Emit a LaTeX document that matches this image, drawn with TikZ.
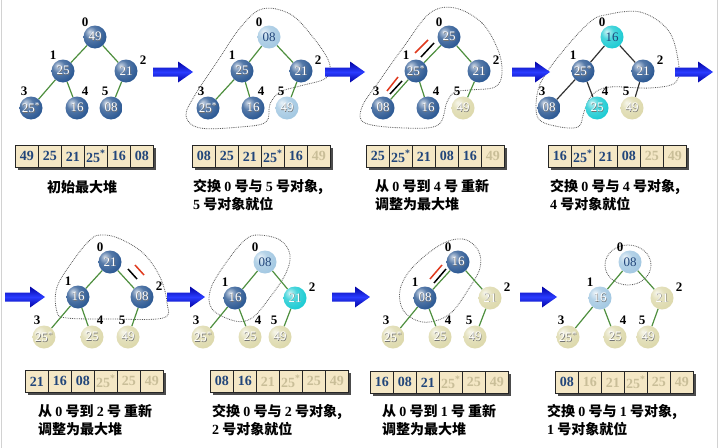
\documentclass[tikz,border=0pt]{standalone}
\usepackage{fontspec}
\setmainfont{Liberation Serif}
\newfontfamily\cjk{Noto Sans CJK SC}
\usetikzlibrary{calc}
\definecolor{dkblue}{HTML}{2B5893}
\definecolor{ltblue}{HTML}{A3C8E2}
\definecolor{cyanc}{HTML}{1CCBD3}
\definecolor{beige}{HTML}{DDD9AC}
\definecolor{edgegreen}{HTML}{4E8F3E}
\definecolor{cellfill}{HTML}{F4E7C5}
\definecolor{numblue}{HTML}{21457A}
\definecolor{numdone}{HTML}{C9BE98}
\definecolor{arrowdk}{HTML}{0000A0}
\definecolor{arrowlt}{HTML}{2A3CFF}
\definecolor{swapred}{HTML}{E03A1E}
\makeatletter
\pgfdeclareradialshading[tikz@ball]{softball}{\pgfqpoint{-12bp}{12bp}}{color(0bp)=(tikz@ball!25!white); color(14bp)=(tikz@ball!80!white); color(32bp)=(tikz@ball); color(52bp)=(tikz@ball!78!black); color(70bp)=(tikz@ball!60!black)}
\makeatother
\newcommand\dg[1]{{\normalfont\bfseries #1}}
\newcommand\starv{25\textsuperscript{*}}
\newcommand\sh[1]{\rlap{\kern0.6pt\raisebox{-0.6pt}{\textcolor{black!55}{#1}}}#1}
\newcommand\tedges[2]{\draw[#2] (#1n0)--(#1n1) (#1n0)--(#1n2) (#1n1)--(#1n3) (#1n1)--(#1n4) (#1n2)--(#1n5);}
\newcommand\tlabels[1]{\foreach \i/\dx/\dy in {0/-10/-15,1/-10/-16,2/17/-11,3/-7/-17,4/8/-17,5/-6/-17} {\node[idx] (#1l\i) at ($(#1n\i)+(\dx,\dy)$) {\i};}}
\newcommand\harray[4]{\fill[black!70] ({#2+3},{#3+3}) rectangle ({#2+141},{#3+25});
 \foreach \v/\s [count=\k] in {#4} {\node[\s, anchor=north west] (#1c\k) at ({#2+(\k-1)*23},{#3}) {\v};}}
\newcommand\barrow[3]{\shade[top color=arrowdk, bottom color=arrowdk, middle color=arrowlt]
 ({#1},{#3-4.5}) -- ({#2-15},{#3-4.5}) -- ({#2-15},{#3-10.5}) -- ({#2},{#3}) -- ({#2-15},{#3+10.5}) -- ({#2-15},{#3+4.5}) -- ({#1},{#3+4.5}) -- cycle;}
\tikzset{
 hnode/.style={circle, minimum size=23pt, inner sep=0pt, font=\fontsize{13}{13}\selectfont},
 dk/.style={hnode, ball color=dkblue, shading=softball, text=white},
 lb/.style={hnode, ball color=ltblue, shading=softball, text=numblue},
 lbw/.style={hnode, ball color=ltblue, shading=softball, text=white},
 cy/.style={hnode, ball color=cyanc, shading=softball, text=white},
 cyd/.style={hnode, ball color=cyanc, shading=softball, text=numblue},
 bg/.style={hnode, ball color=beige, shading=softball, text=white},
 edgeg/.style={edgegreen, line width=1.2pt},
 edgek/.style={black!80, line width=1.2pt},
 idx/.style={font=\bfseries\fontsize{13}{13}\selectfont, inner sep=0pt},
 zone/.style={densely dotted, gray!70!black, line width=0.8pt},
 cellbox/.style={draw=black!85, fill=cellfill, minimum width=23pt, minimum height=22pt, inner sep=0pt, line width=0.8pt, font=\bfseries\fontsize{14}{14}\selectfont},
 cellon/.style={cellbox, text=numblue},
 celloff/.style={cellbox, text=numdone},
 captext/.style={font=\cjk\bfseries\fontsize{14}{18}\selectfont, align=left, inner sep=0pt, anchor=north west},
 swapk/.style={black, line width=1.5pt},
 swapr/.style={swapred, line width=1.5pt}
}
\begin{document}
\begin{tikzpicture}[x=1pt, y=-1pt]
\useasboundingbox (0,0) rectangle (720,447);
\fill[white] (0,0) rectangle (720,447);
\draw[gray!35, line width=1pt] (1,-2) rectangle (717,449);
% zones
\draw[zone] plot[smooth cycle, tension=0.6] coordinates {(262,9) (290,14) (312,36) (329,62) (326,78) (300,86) (280,92) (270,104) (266,122) (240,127) (200,128) (186,116) (195,95) (217,62) (240,28)};
\draw[zone] plot[smooth cycle, tension=0.6] coordinates {(455,8) (482,23) (498,50) (502,73) (495,87) (470,90) (455,92) (447,102) (438,125) (405,128) (365,123) (362,107) (380,80) (405,45) (430,13)};
\draw[zone] plot[smooth cycle, tension=0.6] coordinates {(605,15) (640,12) (668,30) (678,60) (676,82) (650,88) (610,87) (592,95) (584,112) (578,127) (555,126) (538,118) (537,95) (545,75) (568,45) (590,22)};
\draw[zone] plot[smooth cycle, tension=0.6] coordinates {(100,235) (118,238) (143,253) (160,277) (167,303) (163,318) (110,319) (67,318) (57,312) (57,287) (75,258) (90,240)};
\draw[zone] plot[smooth cycle, tension=0.6] coordinates {(258,235) (280,240) (290,255) (285,275) (268,300) (252,318) (235,321) (212,309) (211,288) (228,260) (245,240)};
\draw[zone] plot[smooth cycle, tension=0.6] coordinates {(463,239) (478,250) (480,268) (468,290) (452,312) (435,321) (418,321) (403,310) (400,290) (412,268) (440,245)};
\draw[zone] (628,265) ellipse [x radius=23, y radius=20];
% panel 1
\node[dk] (aan0) at (95,37) {\sh{49}};
\node[dk] (aan1) at (63,71) {\sh{25}};
\node[dk] (aan2) at (126,71) {\sh{21}};
\node[dk] (aan3) at (31,108) {\sh{\starv}};
\node[dk] (aan4) at (77,108) {\sh{16}};
\node[dk] (aan5) at (111,108) {\sh{08}};
\tedges{aa}{edgeg}\tlabels{aa}
% panel 2
\node[lb] (abn0) at (269,37) {08};
\node[dk] (abn1) at (242,71) {\sh{25}};
\node[dk] (abn2) at (301,71) {\sh{21}};
\node[dk] (abn3) at (208,108) {\sh{\starv}};
\node[dk] (abn4) at (253,108) {\sh{16}};
\node[lbw] (abn5) at (287,108) {\sh{49}};
\tedges{ab}{edgeg}\tlabels{ab}
% panel 3
\node[dk] (acn0) at (449,37) {\sh{25}};
\node[dk] (acn1) at (416,71) {\sh{\starv}};
\node[dk] (acn2) at (479,71) {\sh{21}};
\node[dk] (acn3) at (383,108) {\sh{08}};
\node[dk] (acn4) at (428,108) {\sh{16}};
\node[bg] (acn5) at (463,108) {\sh{49}};
\tedges{ac}{edgeg}\tlabels{ac}
\draw[swapr] (415,53) -- (428,40);
\draw[swapk] (421,57) -- (434,43);
\draw[swapr] (387,91) -- (398,77);
\draw[swapk] (390,94) -- (402,81);
% panel 4
\node[cyd] (adn0) at (612,37) {16};
\node[dk] (adn1) at (583,71) {\sh{\starv}};
\node[dk] (adn2) at (643,71) {\sh{21}};
\node[dk] (adn3) at (549,108) {\sh{08}};
\node[cy] (adn4) at (597,108) {\sh{25}};
\node[bg] (adn5) at (632,108) {\sh{49}};
\tedges{ad}{edgek}\tlabels{ad}
% panel 5
\node[dk] (aen0) at (110,262) {\sh{21}};
\node[dk] (aen1) at (78,297) {\sh{16}};
\node[dk] (aen2) at (142,297) {\sh{08}};
\node[bg] (aen3) at (44,337) {\sh{\starv}};
\node[bg] (aen4) at (92,337) {\sh{25}};
\node[bg] (aen5) at (128,337) {\sh{49}};
\tedges{ae}{edgeg}\tlabels{ae}
\draw[swapk] (128,269) -- (137,279);
\draw[swapr] (135,265) -- (144,275);
% panel 6
\node[lb] (afn0) at (265,262) {08};
\node[dk] (afn1) at (235,298) {\sh{16}};
\node[cy] (afn2) at (295,298) {\sh{21}};
\node[bg] (afn3) at (203,337) {\sh{\starv}};
\node[bg] (afn4) at (250,337) {\sh{25}};
\node[bg] (afn5) at (280,337) {\sh{49}};
\tedges{af}{edgeg}\tlabels{af}
% panel 7
\node[dk] (agn0) at (458,262) {\sh{16}};
\node[dk] (agn1) at (425,298) {\sh{08}};
\node[bg] (agn2) at (490,298) {\sh{21}};
\node[bg] (agn3) at (393,337) {\sh{\starv}};
\node[bg] (agn4) at (440,337) {\sh{25}};
\node[bg] (agn5) at (475,337) {\sh{49}};
\tedges{ag}{edgeg}\tlabels{ag}
\draw[swapr] (430,279) -- (442,265);
\draw[swapk] (434,283) -- (446,269);
% panel 8
\node[lb] (ahn0) at (630,262) {08};
\node[lbw] (ahn1) at (600,298) {\sh{16}};
\node[bg] (ahn2) at (662,298) {\sh{21}};
\node[bg] (ahn3) at (568,337) {\sh{\starv}};
\node[bg] (ahn4) at (615,337) {\sh{25}};
\node[bg] (ahn5) at (648,337) {\sh{49}};
\tedges{ah}{edgeg}\tlabels{ah}
% arrows
\barrow{153}{193}{72}
\barrow{325}{365}{72}
\barrow{512}{550}{72}
\barrow{675}{713}{72}
\barrow{5}{45}{297}
\barrow{167}{205}{297}
\barrow{332}{370}{297}
\barrow{520}{557}{297}
% arrays
\harray{ra}{15}{145}{49/cellon,25/cellon,21/cellon,{\starv}/cellon,16/cellon,08/cellon}
\harray{rb}{192}{145}{08/cellon,25/cellon,21/cellon,{\starv}/cellon,16/cellon,49/celloff}
\harray{rc}{366}{145}{25/cellon,{\starv}/cellon,21/cellon,08/cellon,16/cellon,49/celloff}
\harray{rd}{548}{145}{16/cellon,{\starv}/cellon,21/cellon,08/cellon,25/celloff,49/celloff}
\harray{re}{25}{370}{21/cellon,16/cellon,08/cellon,{\starv}/celloff,25/celloff,49/celloff}
\harray{rf}{210}{370}{08/cellon,16/cellon,21/celloff,{\starv}/celloff,25/celloff,49/celloff}
\harray{rg}{370}{371}{16/cellon,08/cellon,21/cellon,{\starv}/celloff,25/celloff,49/celloff}
\harray{rh}{555}{371}{08/cellon,16/celloff,21/celloff,{\starv}/celloff,25/celloff,49/celloff}
% captions
\node[captext, anchor=center] (ta) at (82,187) {初始最大堆};
\node[captext] (tb) at (193,179) {交换 \dg{0} 号与 \dg{5} 号对象,\\\dg{5} 号对象就位};
\node[captext] (tc) at (375,179) {从 \dg{0} 号到 \dg{4} 号 重新\\调整为最大堆};
\node[captext] (td) at (550,179) {交换 \dg{0} 号与 \dg{4} 号对象,\\\dg{4} 号对象就位};
\node[captext] (te) at (38,404) {从 \dg{0} 号到 \dg{2} 号 重新\\调整为最大堆};
\node[captext] (tf) at (212,404) {交换 \dg{0} 号与 \dg{2} 号对象,\\\dg{2} 号对象就位};
\node[captext] (tg) at (382,404) {从 \dg{0} 号到 \dg{1} 号 重新\\调整为最大堆};
\node[captext] (th) at (547,404) {交换 \dg{0} 号与 \dg{1} 号对象,\\\dg{1} 号对象就位};
\end{tikzpicture}
\end{document}
